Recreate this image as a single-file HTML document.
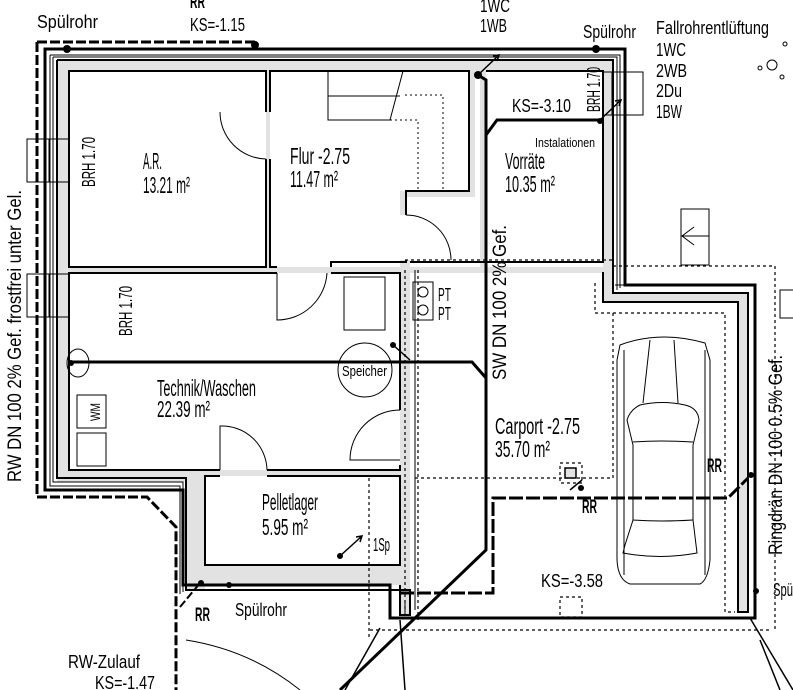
<!DOCTYPE html>
<html><head><meta charset="utf-8"><style>
html,body{margin:0;padding:0;background:#fff;}
svg{display:block;}
text{font-family:"Liberation Sans",sans-serif;fill:#000;}
</style></head><body>
<svg width="793" height="690" viewBox="0 0 793 690" xmlns="http://www.w3.org/2000/svg">
<g fill="#e2e2e2" stroke="none">
 <rect x="57" y="60" width="556" height="11"/>
 <rect x="57" y="60" width="12" height="418"/>
 <rect x="57" y="470" width="136" height="12"/>
 <rect x="186" y="470" width="19" height="120"/>
 <rect x="186" y="565" width="224" height="20"/>
 <rect x="400" y="260" width="10" height="355"/>
 <rect x="603" y="60" width="10" height="242"/>
 <rect x="603" y="293" width="145" height="9"/>
 <rect x="738" y="293" width="10" height="319"/>
 <rect x="69" y="267" width="535" height="6"/>
 <rect x="266" y="71" width="4" height="196"/>
 <rect x="469" y="71" width="6" height="126"/>
 <rect x="400" y="191" width="75" height="6"/>
 <rect x="400" y="191" width="6" height="24"/>
 <rect x="480" y="71" width="6" height="200"/>
 <rect x="69" y="470" width="331" height="6"/>
</g>
<g fill="none" stroke="#000" stroke-width="2">
 <path d="M266 112 V71 H69 V267 H266 V159"/>
 <path d="M270 112 V71 H469 V191 H406 V215 M406 260 V262 H331 V267 M277 267 H270 V159"/>
 <path d="M486 71 H603 V262 H410"/>
 <path d="M277 273 H69 V470 H220 M267 470 H400 V465 M400 410 V273 H331"/>
 <path d="M220 476 H205 V565 H400 V476 H267"/>
 <path d="M57 60 H613 V293 H748 V612 H738 V302 H603 V272"/>
 <path d="M57 60 V478 H186 V590 H410 V615 H400 V585"/>
 <path d="M615 285 H738" stroke-width="1"/>
</g>
<g fill="none" stroke="#000" stroke-width="1">
 <path d="M53 57 H617 V290 M50 55 H620 V288"/>
 <path d="M53 57 V482 H183 V592 M50 55 V486 H180 V594"/>
 <path d="M415 270 V610 M405 600 V615"/>
 <rect x="27" y="139" width="42" height="43"/><line x1="49" y1="139" x2="49" y2="182"/><line x1="57" y1="139" x2="57" y2="182"/>
 <rect x="27" y="274" width="42" height="43"/><line x1="49" y1="274" x2="49" y2="317"/><line x1="57" y1="274" x2="57" y2="317"/>
 <rect x="603" y="72" width="40" height="43"/><line x1="612" y1="72" x2="612" y2="115"/><line x1="620" y1="72" x2="620" y2="115"/>
 <rect x="681" y="209" width="28" height="56"/><line x1="681" y1="236" x2="709" y2="236"/><path d="M694 227 L682 236 L694 245"/>
 <rect x="780" y="290" width="20" height="28"/>
 <path d="M266 159 A47 47 0 0 1 220 112"/>
 <path d="M277 273 V320 A50 50 0 0 0 327 273"/>
 <path d="M406 215 A45 45 0 0 1 451 260"/>
 <path d="M400 410 A50 50 0 0 0 350 460 H400"/>
 <path d="M220 470 V426 A45 45 0 0 1 267 470"/>
 <path d="M328 71 V120 H390 L403 71 M328 96 H400"/>
 <path d="M405 95 H443 V190" stroke-dasharray="2 3"/>
 <path d="M390 120 H418 V190" stroke-dasharray="2 3"/>
 <rect x="344" y="277" width="41" height="53"/>
 <rect x="77" y="395" width="29" height="33"/>
 <rect x="77" y="433" width="29" height="33"/>
 <rect x="413" y="282" width="20" height="38"/>
 <circle cx="423" cy="292" r="5"/><circle cx="423" cy="310" r="5"/>
 <circle cx="365" cy="370" r="27"/>
 <ellipse cx="78" cy="363" rx="11" ry="14"/>
 <circle cx="772" cy="65" r="5"/><circle cx="785" cy="44" r="2"/><circle cx="760" cy="68" r="2"/><circle cx="782" cy="77" r="2"/>
</g>
<g fill="none" stroke="#000" stroke-width="1.2" stroke-dasharray="3 3">
 <path d="M405 260 H612"/>
 <path d="M405 270 V610"/>
 <path d="M418 270 V620"/>
 <path d="M595 283 V313 H725 V612 H735"/>
 <path d="M613 266 H775 V630"/>
 <path d="M370 630 H770"/>
 <path d="M415 478 H613 M613 313 V478"/>
 <path d="M369 478 V640"/>
 <rect x="560" y="463" width="22" height="20"/>
 <rect x="560" y="597" width="22" height="20"/>
</g>
<rect x="565" y="468" width="11" height="10" fill="#e2e2e2" stroke="#000" stroke-width="1.5"/>
<g fill="none" stroke="#000" stroke-width="3">
 <path d="M45 49 H625 V285 H755 V618 H390 V585 H183 V490 H45 Z"/>
 <path d="M478 75 L486 80 V550 L340 690"/>
 <path d="M486 135 L497 120 H600"/>
 <path d="M69 362 H472 L486 378"/>
 <path d="M400 593 H493 V498 H728 L748 478" stroke-dasharray="14 3"/>
 <path d="M37 42 H255 V48" stroke-dasharray="10 3"/>
 <path d="M37 42 V497 H147 L176 527 V690" stroke-dasharray="10 3"/>
 <path d="M180 607 L200 583" stroke-dasharray="8 3" stroke-width="2"/>
</g>
<g fill="none" stroke="#000" stroke-width="1.5">
 <path d="M478 75 L499 55 M493 56 L499 55 L497 61"/>
 <path d="M600 120 L621 100 M615 101 L621 100 L619 106"/>
 <path d="M340 556 L362 536 M356 537 L362 536 L360 542"/>
 <path d="M393 345 L410 360"/>
 <path d="M570 490 L582 480"/>
 <path d="M750 618 L793 690 M380 628 L345 690 M400 620 L405 690 M760 640 L780 690"/>
 <path d="M186 640 Q250 650 300 690" stroke-width="1"/>
</g>
<g fill="#000">
 <circle cx="67" cy="49" r="4"/><circle cx="255" cy="45" r="4"/><circle cx="596" cy="49" r="4"/>
 <circle cx="478" cy="75" r="4"/><circle cx="600" cy="121" r="3"/>
 <circle cx="71" cy="363" r="3"/><circle cx="393" cy="345" r="3"/>
 <circle cx="340" cy="556" r="3"/><circle cx="201" cy="583" r="3"/><circle cx="229" cy="585" r="3"/>
 <circle cx="581" cy="488" r="3"/><circle cx="751" cy="475" r="3"/><circle cx="756" cy="591" r="3"/>
</g>
<g fill="none" stroke="#000" stroke-width="1">
 <path d="M620 345 Q660 330 705 343 L710 360 V560 Q708 580 700 584 H630 Q618 580 617 560 V360 Z"/>
 <path d="M624 350 V575 M705 350 V575"/>
 <path d="M640 405 Q630 410 627 420 L633 445 V520 L625 545 L623 553 Q660 560 697 553 L693 520 V445 L699 420 Q698 408 685 405 Q662 400 640 405Z"/>
 <path d="M650 340 L643 403 M674 340 L678 403 M633 442 Q660 440 693 442 M633 520 Q660 522 693 520"/>
</g>
<g font-size="18">
 <text x="37" y="28" textLength="61" lengthAdjust="spacingAndGlyphs">Spülrohr</text>
 <text x="190" y="8" font-weight="bold" textLength="15" lengthAdjust="spacingAndGlyphs">RR</text>
 <text x="190" y="31" textLength="55" lengthAdjust="spacingAndGlyphs">KS=-1.15</text>
 <text x="480" y="12" textLength="30" lengthAdjust="spacingAndGlyphs">1WC</text>
 <text x="480" y="32" textLength="27" lengthAdjust="spacingAndGlyphs">1WB</text>
 <text x="583" y="38" textLength="53" lengthAdjust="spacingAndGlyphs">Spülrohr</text>
 <text x="656" y="34" textLength="113" lengthAdjust="spacingAndGlyphs">Fallrohrentlüftung</text>
 <text x="656" y="56" textLength="30" lengthAdjust="spacingAndGlyphs">1WC</text>
 <text x="656" y="77" textLength="31" lengthAdjust="spacingAndGlyphs">2WB</text>
 <text x="656" y="97" textLength="26" lengthAdjust="spacingAndGlyphs">2Du</text>
 <text x="656" y="118" textLength="26" lengthAdjust="spacingAndGlyphs">1BW</text>
 <text x="512" y="112" textLength="59" lengthAdjust="spacingAndGlyphs">KS=-3.10</text>
 <text x="438" y="301" textLength="13" lengthAdjust="spacingAndGlyphs">PT</text>
 <text x="438" y="320" textLength="13" lengthAdjust="spacingAndGlyphs">PT</text>
 <text x="541" y="587" textLength="62" lengthAdjust="spacingAndGlyphs">KS=-3.58</text>
 <text x="773" y="596" textLength="20" lengthAdjust="spacingAndGlyphs">Spü</text>
 <text x="235" y="616" textLength="52" lengthAdjust="spacingAndGlyphs">Spülrohr</text>
 <text x="68" y="668" textLength="72" lengthAdjust="spacingAndGlyphs">RW-Zulauf</text>
 <text x="95" y="689" textLength="60" lengthAdjust="spacingAndGlyphs">KS=-1.47</text>
 <text x="373" y="551" textLength="17" lengthAdjust="spacingAndGlyphs">1Sp</text>
 <text transform="translate(600,112) rotate(-90)" textLength="45" lengthAdjust="spacingAndGlyphs">BRH 1.70</text>
 <text transform="translate(95,187) rotate(-90)" textLength="50" lengthAdjust="spacingAndGlyphs">BRH 1.70</text>
 <text transform="translate(132,336) rotate(-90)" textLength="50" lengthAdjust="spacingAndGlyphs">BRH 1.70</text>
 <text transform="translate(21,482) rotate(-90)" font-size="19" textLength="292" lengthAdjust="spacingAndGlyphs">RW DN 100 2% Gef. frostfrei unter Gel.</text>
 <text transform="translate(506,380) rotate(-90)" font-size="19" textLength="155" lengthAdjust="spacingAndGlyphs">SW DN 100 2% Gef.</text>
 <text transform="translate(782,555) rotate(-90)" font-size="19" textLength="200" lengthAdjust="spacingAndGlyphs">Ringdrän DN 100 0.5% Gef.</text>
</g>
<g font-size="23">
 <text x="143" y="169" textLength="19" lengthAdjust="spacingAndGlyphs">A.R.</text><text x="143" y="193" textLength="47" lengthAdjust="spacingAndGlyphs">13.21 m²</text>
 <text x="290" y="164" textLength="60" lengthAdjust="spacingAndGlyphs">Flur -2.75</text><text x="290" y="187" textLength="48" lengthAdjust="spacingAndGlyphs">11.47 m²</text>
 <text x="505" y="169" textLength="40" lengthAdjust="spacingAndGlyphs">Vorräte</text><text x="505" y="192" textLength="50" lengthAdjust="spacingAndGlyphs">10.35 m²</text>
 <text x="157" y="396" textLength="99" lengthAdjust="spacingAndGlyphs">Technik/Waschen</text><text x="157" y="417" textLength="53" lengthAdjust="spacingAndGlyphs">22.39 m²</text>
 <text x="262" y="510" textLength="56" lengthAdjust="spacingAndGlyphs">Pelletlager</text><text x="262" y="535" textLength="46" lengthAdjust="spacingAndGlyphs">5.95 m²</text>
 <text x="495" y="434" textLength="85" lengthAdjust="spacingAndGlyphs">Carport -2.75</text><text x="495" y="457" textLength="55" lengthAdjust="spacingAndGlyphs">35.70 m²</text>
</g>
<text x="535" y="147" font-size="13" textLength="60" lengthAdjust="spacingAndGlyphs">Instalationen</text>
<text x="342" y="376" font-size="15" textLength="45" lengthAdjust="spacingAndGlyphs">Speicher</text>
<text transform="translate(100,421) rotate(-90)" font-size="14" textLength="18" lengthAdjust="spacingAndGlyphs">WM</text>
<g font-size="19" font-weight="bold">
 <text x="582" y="513" textLength="15" lengthAdjust="spacingAndGlyphs">RR</text><text x="707" y="472" textLength="15" lengthAdjust="spacingAndGlyphs">RR</text><text x="195" y="621" textLength="15" lengthAdjust="spacingAndGlyphs">RR</text>
</g>
</svg>
</body></html>
